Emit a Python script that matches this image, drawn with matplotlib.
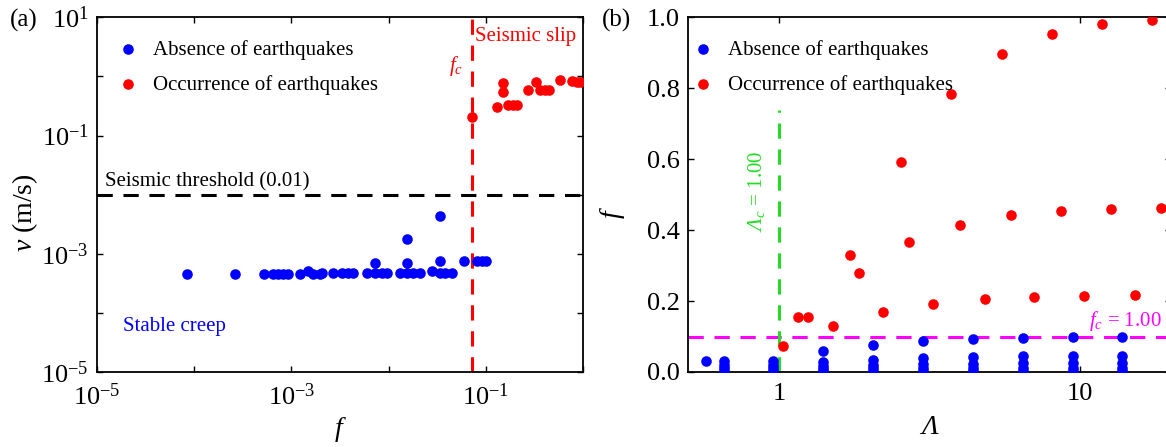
import matplotlib
matplotlib.use("Agg")
import matplotlib.pyplot as plt
import numpy as np
from matplotlib.ticker import FixedLocator, FixedFormatter, NullLocator

plt.rcParams['font.family'] = ['Liberation Serif', 'DejaVu Serif']
plt.rcParams['mathtext.fontset'] = 'custom'
plt.rcParams['mathtext.rm'] = 'Liberation Serif'
plt.rcParams['mathtext.it'] = 'Liberation Serif:italic'
plt.rcParams['mathtext.cal'] = 'Liberation Serif:italic'

BLUE = '#0000FF'
RED = '#FF0000'
GREEN = '#22DD22'
MAGENTA = '#FF00FF'

# ---- (a) creep velocity vs f ----
f_creep = [8.35e-5, 2.62e-4, 5.26e-4, 6.51e-4, 7.33e-4, 8.25e-4, 9.29e-4, 1.23e-3,
           1.49e-3, 1.68e-3, 1.97e-3, 2.05e-3, 2.70e-3, 3.30e-3, 3.86e-3, 4.34e-3,
           5.96e-3, 7.26e-3, 7.26e-3, 8.51e-3, 9.58e-3, 1.31e-2, 1.56e-2, 1.56e-2,
           1.56e-2, 1.80e-2, 2.11e-2, 2.78e-2, 3.39e-2, 3.39e-2, 3.39e-2, 3.82e-2,
           4.48e-2, 6.04e-2, 8.1e-2, 9.2e-2, 0.100]
v_creep = [4.6e-4, 4.6e-4, 4.6e-4, 4.6e-4, 4.6e-4, 4.6e-4, 4.6e-4, 4.6e-4,
           5.2e-4, 4.6e-4, 4.6e-4, 4.7e-4, 4.7e-4, 4.8e-4, 4.7e-4, 4.7e-4,
           4.7e-4, 4.7e-4, 6.9e-4, 4.7e-4, 4.7e-4, 4.7e-4, 4.7e-4, 6.9e-4,
           1.81e-3, 4.7e-4, 4.7e-4, 5.2e-4, 4.7e-4, 7.5e-4, 4.37e-3, 4.7e-4,
           4.7e-4, 7.5e-4, 7.6e-4, 7.6e-4, 7.6e-4]

f_slip = [0.0728, 0.130, 0.152, 0.152, 0.171, 0.192, 0.211, 0.275, 0.330,
          0.362, 0.408, 0.452, 0.582, 0.769, 0.865, 0.936]
v_slip = [0.2075, 0.307, 0.764, 0.55, 0.327, 0.327, 0.327, 0.587, 0.813,
          0.587, 0.587, 0.587, 0.868, 0.836, 0.82, 0.80]

f_crit = 0.0728
v_threshold = 0.01

v_exponents = np.arange(-5, 2)
f_exponents = np.arange(-5, 1)

# ---- (b) f vs Lambda ----
lam_columns = [0.574, 0.655, 0.955, 1.40, 2.054, 3.01, 4.42, 6.48, 9.5, 13.76]
f_columns = [
    [0.0305],
    [0.032, 0.02, 0.01, 0.004],
    [0.032, 0.02, 0.01, 0.004],
    [0.0587, 0.028, 0.018, 0.009, 0.003],
    [0.0775, 0.035, 0.02, 0.01, 0.004],
    [0.0887, 0.040, 0.022, 0.011, 0.004],
    [0.0935, 0.043, 0.023, 0.012, 0.004],
    [0.0963, 0.044, 0.024, 0.012, 0.004],
    [0.099, 0.045, 0.025, 0.012, 0.004],
    [0.099, 0.046, 0.025, 0.012, 0.004],
]
lam_quake = [1.031, 1.154, 1.249, 1.512, 1.724, 1.852, 2.218, 2.55, 2.715, 3.25,
             3.744, 3.99, 4.82, 5.49, 5.88, 7.06, 8.05, 8.63, 10.35, 11.81,
             12.65, 15.2, 17.32, 18.6]
f_quake = [0.073, 0.155, 0.155, 0.131, 0.330, 0.2785, 0.1685, 0.592, 0.366, 0.191,
           0.7837, 0.4155, 0.2056, 0.896, 0.4417, 0.211, 0.953, 0.455, 0.214, 0.981,
           0.4606, 0.216, 0.993, 0.4625]

lam_crit = 1.00
fc_line = 0.1
f_ticks = [0.0, 0.2, 0.4, 0.6, 0.8, 1.0]

lam_stable = [l for l, col in zip(lam_columns, f_columns) for _ in col]
f_stable = [v for col in f_columns for v in col]

fig = plt.figure(figsize=(11.66, 4.47), dpi=100)
ax1 = fig.add_axes([0.0834, 0.1678, 0.4164, 0.7935])
ax2 = fig.add_axes([0.5903, 0.1678, 0.4136, 0.7935])

TICK_FS = 19
LEG_FS = 15
DASH = (5, 3.5)
MS = 58

for ax in (ax1, ax2):
    for s in ax.spines.values():
        s.set_linewidth(1.3)
    ax.tick_params(direction='in', top=True, right=True, length=4.5, width=1.0,
                   labelsize=TICK_FS, pad=6)
    ax.tick_params(axis='x', pad=8)

# panel (a)
ax1.set_xscale('log')
ax1.set_yscale('log')
ax1.scatter(f_creep, v_creep, s=MS, color=BLUE, linewidths=0, zorder=3,
            label='Absence of earthquakes')
ax1.scatter(f_slip, v_slip, s=MS, color=RED, linewidths=0, zorder=3,
            label='Occurrence of earthquakes')
ax1.axhline(v_threshold, color='black', lw=2.2, dashes=DASH, zorder=2)
ax1.axvline(f_crit, color=RED, lw=2.2, dashes=DASH, zorder=2)
ax1.set_xlim(1e-5, 1)
ax1.set_ylim(1e-5, 10)

ax1.xaxis.set_major_locator(FixedLocator(10.0 ** f_exponents))
ax1.xaxis.set_major_formatter(FixedFormatter(
    [r'10$^{%d}$' % e if e % 2 else '' for e in f_exponents]))
ax1.yaxis.set_major_locator(FixedLocator(10.0 ** v_exponents))
ax1.yaxis.set_major_formatter(FixedFormatter(
    [r'10$^{%d}$' % e if e % 2 else '' for e in v_exponents]))
ax1.xaxis.set_minor_locator(NullLocator())
ax1.yaxis.set_minor_locator(NullLocator())

ax1.set_xlabel('$f$', fontsize=20)
ax1.set_ylabel('$v$ (m/s)', fontsize=20)
ax1.xaxis.set_label_coords(0.5, -0.12)
ax1.yaxis.set_label_coords(-0.117, 0.45)

ax1.text(1.2e-5, 0.0115, 'Seismic threshold (0.01)', fontsize=LEG_FS, va='bottom')
ax1.text(1.86e-5, 5.8e-5, 'Stable creep', fontsize=LEG_FS, color=BLUE, va='center')
ax1.text(0.0776, 4.69, 'Seismic slip', fontsize=LEG_FS, color=RED, va='center')
ax1.text(0.0584, 1.5, '$f_c$', fontsize=LEG_FS, color=RED, va='center', ha='right')

ax1.legend(loc='upper left', bbox_to_anchor=(0.016, 0.977), frameon=False,
           fontsize=LEG_FS, handlelength=0.8, handletextpad=0.8,
           labelspacing=0.72, borderpad=0.2, scatterpoints=1)

# panel (b)
ax2.set_xscale('log')
ax2.scatter(lam_stable, f_stable, s=MS, color=BLUE, linewidths=0, zorder=3,
            label='Absence of earthquakes')
ax2.scatter(lam_quake, f_quake, s=MS, color=RED, linewidths=0, zorder=3,
            label='Occurrence of earthquakes')
ax2.axhline(fc_line, color=MAGENTA, lw=2.2, dashes=DASH, zorder=2)
ax2.plot([lam_crit, lam_crit], [0, 0.74], color=GREEN, lw=2.2, dashes=DASH, zorder=2)
ax2.set_xlim(0.5, 20)
ax2.set_ylim(0, 1.0)
ax2.xaxis.set_major_locator(FixedLocator([1, 10]))
ax2.xaxis.set_major_formatter(FixedFormatter(['1', '10']))
ax2.xaxis.set_minor_locator(NullLocator())
ax2.set_yticks(f_ticks)
ax2.set_yticklabels(['%.1f' % t for t in f_ticks])

ax2.set_xlabel('Λ', fontsize=20, fontstyle='italic')
ax2.set_ylabel('$f$', fontsize=20)
ax2.xaxis.set_label_coords(0.5, -0.12)
ax2.yaxis.set_label_coords(-0.127, 0.45)

ax2.text(0.843, 0.51, r'$\mathcal{Λ}_c$ = 1.00', fontsize=LEG_FS, color=GREEN,
         rotation=90, ha='center', va='center')
ax2.text(18.7, 0.145, '$f_c$ = 1.00', fontsize=LEG_FS, color=MAGENTA,
         ha='right', va='center')

ax2.legend(loc='upper left', bbox_to_anchor=(-0.018, 0.977), frameon=False,
           fontsize=LEG_FS, handlelength=0.8, handletextpad=0.8,
           labelspacing=0.72, borderpad=0.2, scatterpoints=1)

fig.text(0.0206, 0.955, '(a)', fontsize=18, ha='center', va='center')
fig.text(0.529, 0.955, '(b)', fontsize=18, ha='center', va='center')

fig.savefig('out.png', dpi=100)
